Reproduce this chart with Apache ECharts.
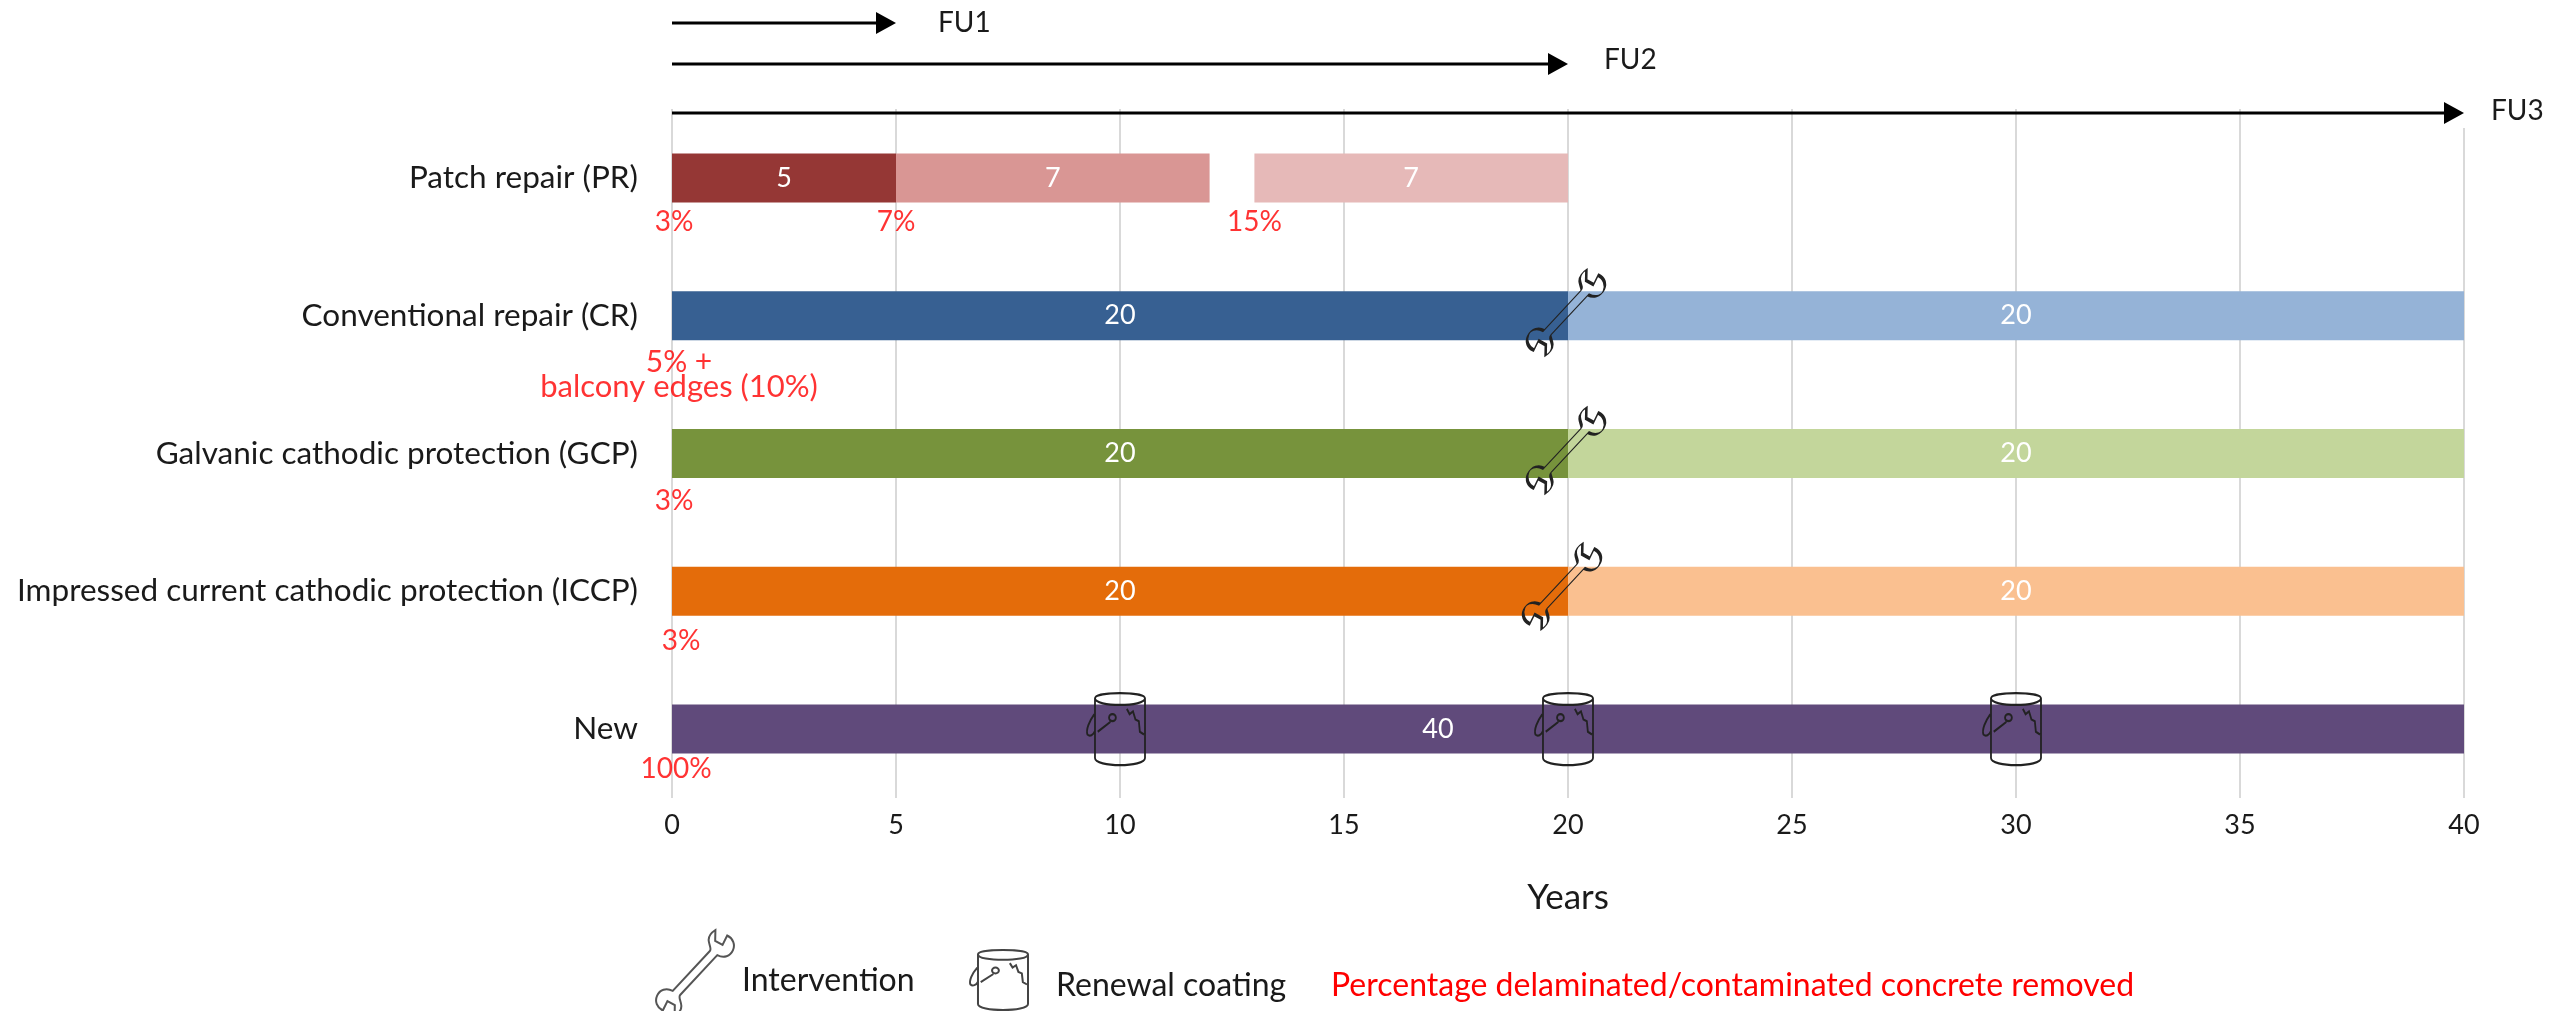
<!DOCTYPE html>
<html>
<head>
<meta charset="utf-8">
<style>html,body{margin:0;padding:0;background:#fff}#chart{width:2552px;height:1011px}</style>
<script src="https://cdn.jsdelivr.net/npm/echarts@6/dist/echarts.min.js"></script>
</head>
<body>
<div id="chart"></div>
<script>
// Service-life timeline of concrete repair methods, in years.
const methods = [
  'Patch repair (PR)',
  'Conventional repair (CR)',
  'Galvanic cathodic protection (GCP)',
  'Impressed current cathodic protection (ICCP)',
  'New'
];
const firstPeriod = [5, 20, 20, 20, 40];
const secondPeriod = [7, 20, 20, 20, null];
// Patch repair's stated periods add up to 19 years; its third period still starts at year 13.
const idleBeforeThird = [1, null, null, null, null];
const thirdPeriod = [7, null, null, null, null];

const firstColors = ['#953735', '#376092', '#77933C', '#E46C0A', '#604A7B'];
const secondColors = ['#D99694', '#95B3D7', '#C3D69B', '#FAC090', null];
const thirdColors = ['#E6B9B8', null, null, null, null];

const functionalUnits = ['FU1', 'FU2', 'FU3'];
const functionalUnitYears = [5, 20, 40];

const removalYears = [0, 5, 13, 0, 0, 0, 0, 0];
const removalMethods = [0, 0, 0, 1, 1, 2, 3, 4];
const removalTexts = ['3%', '7%', '15%', '5% +', 'balcony edges (10%)', '3%', '3%', '100%'];

const interventionYears = [20, 20, 20];
const interventionMethods = [1, 2, 3];
const coatingYears = [10, 20, 30];
const coatingMethods = [4, 4, 4];

const xTicks = { min: 0, max: 40, interval: 5 };

// Layout and styling
const FONT = 'Lato';
const INK = '#1a1a1a';
const removalOffsets = [[2, 44], [0, 44], [0, 44], [7, 47], [7, 71], [2, 47], [9, 50], [4, 40]];
const removalSizes = [28, 28, 28, 30, 31, 28, 28, 28];
const interventionOffsets = [[-2, -3], [-2, -3], [-6, -5]];
const arrowRows = [23, 64, 113];
const arrowLabelGap = [42, 36, 27];
const arrowLabelLift = [0, -4, -2];

// Open-end spanner laid out horizontally; symbols rotate it into place.
const SPANNER = 'M22 11 L76 11 C79 11 80 6 83 3 C86 0 91 0 95 1 L87 8 L89 16 L99 13 C101 19 98 25 92 27 C86 29 80 26 78 19 L24 19 C21 19 20 24 17 27 C14 30 9 30 5 29 L13 22 L11 14 L1 17 C-1 11 2 5 8 3 C14 1 20 4 22 11 Z';
// Paint tin with its handle and drips.
const TIN = 'M27 25 C27 5 173 5 173 25 L173 195 C173 222 27 222 27 195 Z M27 25 C27 50 173 50 173 25 M25 70 C10 90 0 115 5 128 C12 135 22 130 27 118 M35 120 L72 92 M68 80 a10 10 0 1 0 20 0 a10 10 0 1 0 -20 0 M120 55 L128 70 L138 62 L145 85 L155 90 L158 120 L170 128';

function periodSeries(name, values, colors, extraLabel) {
  return {
    name, type: 'bar', stack: 'life', barWidth: 49, z: 2,
    data: values.map((v, i) => v === null ? null : {
      value: v,
      itemStyle: { color: colors[i] },
      label: extraLabel && extraLabel[i] ? extraLabel[i] : undefined
    }),
    label: { show: true, position: 'inside', color: '#fff', fontFamily: FONT, fontSize: 27 }
  };
}

const option = {
  animation: false,
  backgroundColor: '#fff',
  textStyle: { fontFamily: FONT },
  grid: { left: 672, right: 88, top: 109, bottom: 213 },
  xAxis: {
    type: 'value', min: xTicks.min, max: xTicks.max, interval: xTicks.interval,
    axisLine: { show: false }, axisTick: { show: false },
    splitLine: { show: true, lineStyle: { color: '#d9d9d9', width: 2 } },
    axisLabel: { color: INK, fontFamily: FONT, fontSize: 27, margin: 14 },
    name: 'Years', nameLocation: 'middle', nameGap: 82,
    nameTextStyle: { color: INK, fontFamily: FONT, fontSize: 35 }
  },
  yAxis: {
    type: 'category', inverse: true, data: methods,
    axisLine: { show: false }, axisTick: { show: false }, splitLine: { show: false },
    axisLabel: { color: INK, fontFamily: FONT, fontSize: 31.5, margin: 34 }
  },
  series: [
    periodSeries('First period', firstPeriod, firstColors,
      [null, null, null, null, { offset: [-130, 0] }]),
    periodSeries('Second period', secondPeriod, secondColors),
    {
      name: 'Idle', type: 'bar', stack: 'life', barWidth: 49, silent: true,
      itemStyle: { color: 'transparent' }, data: idleBeforeThird
    },
    periodSeries('Third period', thirdPeriod, thirdColors),
    {
      name: 'Intervention', type: 'scatter', z: 5,
      symbol: 'path://' + SPANNER, symbolSize: [100, 30], symbolRotate: 47,
      itemStyle: { color: 'transparent', borderColor: '#222', borderWidth: 2, opacity: 1 },
      data: interventionYears.map((y, i) => ({
        value: [y, methods[interventionMethods[i]]],
        symbolOffset: interventionOffsets[i]
      }))
    },
    {
      name: 'Renewal coating', type: 'scatter', z: 5,
      symbol: 'path://' + TIN, symbolSize: [58, 72], symbolOffset: [-4, 0],
      itemStyle: { color: 'transparent', borderColor: '#222', borderWidth: 2, opacity: 1 },
      data: coatingYears.map((y, i) => [y, methods[coatingMethods[i]]])
    },
    {
      name: 'Removed concrete', type: 'scatter', z: 6, symbolSize: 1,
      itemStyle: { color: 'transparent' },
      data: removalYears.map((y, i) => ({
        name: removalTexts[i],
        value: [y, methods[removalMethods[i]]],
        label: { offset: removalOffsets[i], fontSize: removalSizes[i] }
      })),
      label: {
        show: true, position: 'inside', formatter: '{b}',
        color: '#ff0000', fontFamily: FONT
      }
    },
    {
      // Functional-unit spans run above the bars, ending at their year on the x axis.
      name: 'Functional units', type: 'custom', z: 7, clip: false,
      data: functionalUnitYears.map((y, i) => [y, i]),
      renderItem(params, api) {
        const i = params.dataIndex;
        const year = api.value(0);
        const x0 = api.coord([xTicks.min, 0])[0];
        const x1 = api.coord([year, 0])[0];
        const y = arrowRows[i];
        const children = [];
        if (year === xTicks.max) {
          children.push({ type: 'rect', shape: { x: x1 - 4, y: y - 6, width: 8, height: 21 },
            style: { fill: '#fff' } });
        }
        children.push(
          { type: 'line', shape: { x1: x0, y1: y, x2: x1 - 18, y2: y },
            style: { stroke: '#000', lineWidth: 3 } },
          { type: 'polygon', shape: { points: [[x1 - 20, y - 11], [x1, y], [x1 - 20, y + 11]] },
            style: { fill: '#000' } },
          { type: 'text', style: {
              x: x1 + arrowLabelGap[i], y: y + arrowLabelLift[i], text: functionalUnits[i],
              fill: INK, font: '28px ' + FONT, verticalAlign: 'middle' } }
        );
        return { type: 'group', children };
      }
    },
    {
      // Key icons below the axis.
      name: 'Key', type: 'custom', z: 7, clip: false, silent: true,
      data: [[0, 0]],
      renderItem() {
        return { type: 'group', children: [
          { type: 'path', x: 695, y: 973, rotation: 47 * Math.PI / 180,
            shape: { pathData: SPANNER, layout: 'cover', x: -50, y: -15, width: 100, height: 30 },
            style: { fill: 'none', stroke: '#555', lineWidth: 2 } },
          { type: 'path',
            shape: { pathData: TIN, layout: 'cover', x: 970, y: 950, width: 58, height: 60 },
            style: { fill: 'none', stroke: '#444', lineWidth: 2 } }
        ] };
      }
    }
  ],
  graphic: [
    { type: 'text', x: 742, y: 981,
      style: { text: 'Intervention', fill: INK, font: '32px ' + FONT, verticalAlign: 'middle' } },
    { type: 'text', x: 1056, y: 986,
      style: { text: 'Renewal coating', fill: INK, font: '32px ' + FONT, verticalAlign: 'middle' } },
    { type: 'text', x: 1331, y: 986,
      style: { text: 'Percentage delaminated/contaminated concrete removed', fill: '#ff0000',
        font: '32px ' + FONT, verticalAlign: 'middle' } }
  ]
};

echarts.init(document.getElementById('chart')).setOption(option);
</script>
</body>
</html>
